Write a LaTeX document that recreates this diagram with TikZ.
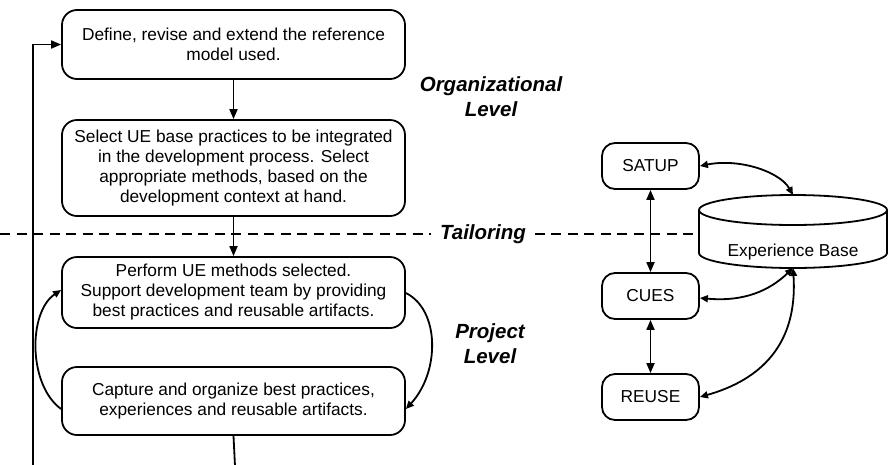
\documentclass[tikz,border=0pt]{standalone}
\usepackage{fontspec}
\setmainfont{Liberation Sans}
\usetikzlibrary{arrows.meta}
\begin{document}
\begin{tikzpicture}[x=1pt,y=-1pt,
  line width=1.8pt,
  arr/.style={-{Triangle[length=10pt,width=8pt]}},
  darr/.style={{Triangle[length=10pt,width=8pt]}-{Triangle[length=10pt,width=8pt]}},
  sarr/.style={-{Triangle[length=8pt,width=7pt]}},
  dsarr/.style={{Triangle[length=8pt,width=7pt]}-{Triangle[length=8pt,width=7pt]}},
  proc/.style={draw,rounded corners=15pt,minimum width=343pt,align=center,inner sep=0pt,
    font=\fontsize{17.3}{20}\selectfont},
  small/.style={draw,rounded corners=13pt,minimum width=97pt,minimum height=46pt,inner sep=0pt,
    font=\fontsize{17.3}{20}\selectfont},
  lvl/.style={font=\fontsize{20.5}{25}\selectfont\bfseries\itshape,align=center,inner sep=1pt}
]
\useasboundingbox (0,0) rectangle (888,464);

% left column boxes
\node[proc,minimum height=69pt] (b1) at (233.5,44.5)
  {\fontsize{17.3}{25}\selectfont Define, revise and extend the reference\\model used.};
\node[proc,minimum height=96pt] (b2) at (233.5,168)
  {Select UE base practices to be integrated\\in the development process. Select\\appropriate methods, based on the\\development context at hand.};
\node[proc,minimum height=71pt] (b3) at (233.5,292.5)
  {Perform UE methods selected.\\Support development team by providing\\best practices and reusable artifacts.};
\node[proc,minimum height=68pt] (b4) at (233.5,401)
  {Capture and organize best practices,\\experiences and reusable artifacts.};

% level labels
\node[lvl] (org) at (491,97) {Organizational\\Level};
\node[lvl,inner xsep=8pt] (tail) at (483,234) {Tailoring};
\node[lvl] (proj) at (490,344) {Project\\Level};

% right side
\node[small] (satup) at (650.5,166) {SATUP};
\node[small] (cues) at (650.5,296) {CUES};
\node[small] (reuse) at (650.5,397) {REUSE};

% experience base cylinder
\draw[fill=white] (699,210) -- (699,253) arc[start angle=180,end angle=360,x radius=94,y radius=-15]
  -- (887,210) arc[start angle=0,end angle=180,x radius=94,y radius=-15] -- cycle;
\draw (699,210) arc[start angle=180,end angle=360,x radius=94,y radius=-15];
\node[font=\fontsize{17.3}{20}\selectfont] (eb) at (793,252) {Experience Base};
\coordinate (cyltop) at (793,195);
\coordinate (cylbot) at (793,268);

% dashed tailoring line
\coordinate (dl) at (0,234);
\coordinate (dr) at (699,234);
\draw[dash pattern=on 10pt off 6.5pt] (dl) -- (tail.west);
\draw[dash pattern=on 10pt off 6.5pt] (tail.east) -- (dr);

% left column connectors
\coordinate (bl) at (33,466);
\coordinate (br) at (235,466);
\draw[arr] (b1.south) -- (b2.north);
\draw[arr] (b2.south) -- (b3.north);
\draw (b4.south) -- (br);
\draw[arr] (bl) |- (b1.west);
\draw[sarr] ([yshift=-8pt]b4.west) .. controls (28,385) and (28,312) .. ([yshift=2.5pt]b3.west);
\draw[sarr] ([yshift=-0.5pt]b3.east) .. controls (440,310) and (440,372) .. ([yshift=-8pt]b4.east);

% right side connectors
\draw[darr] (satup.south) -- (cues.north);
\draw[darr] (cues.south) -- (reuse.north);
\draw[dsarr] (satup.east) .. controls (740,158) and (780,172) .. (cyltop);
\draw[dsarr] ([yshift=-2pt]cues.east) .. controls (745,302) and (770,290) .. (cylbot);
\draw[dsarr] (reuse.east) .. controls (760,380) and (798,345) .. (cylbot);
\end{tikzpicture}
\end{document}
